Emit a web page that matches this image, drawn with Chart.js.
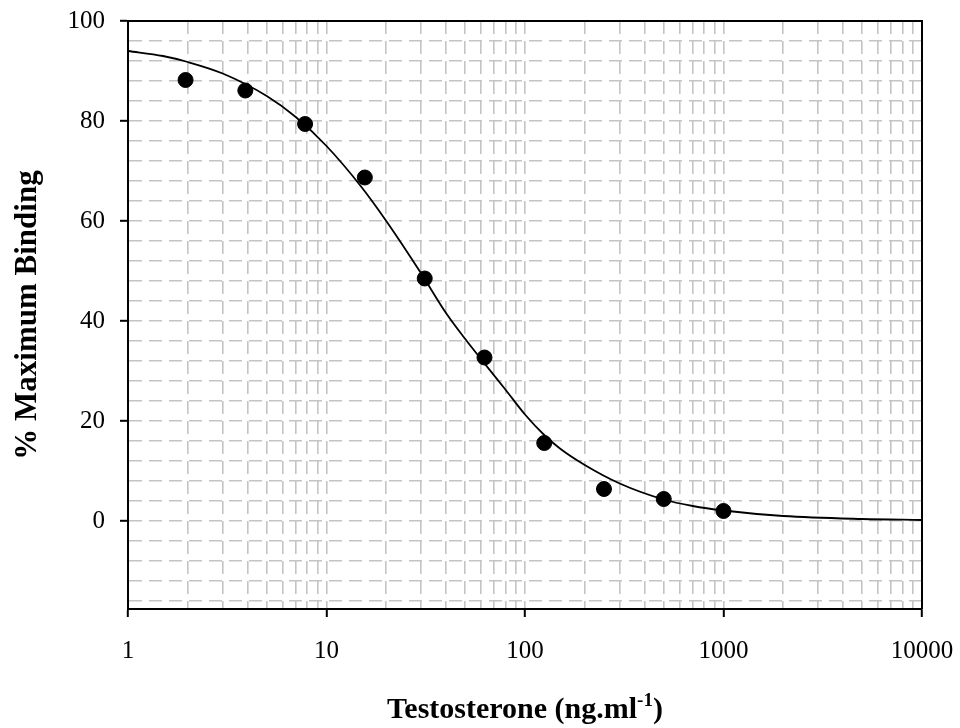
<!DOCTYPE html>
<html>
<head>
<meta charset="utf-8">
<script src="https://cdn.jsdelivr.net/npm/chart.js@4.4.1/dist/chart.umd.min.js"></script>
<style>
  html, body { margin: 0; padding: 0; background: #fff; }
  #wrap { width: 960px; height: 728px; position: relative; }
</style>
</head>
<body>
<div id="wrap"><canvas id="binding-chart"></canvas></div>
<script>
// measured points (dose in ng/ml vs % max binding)
const doses = [1.95, 3.9, 7.8, 15.6, 31.25, 62.5, 125, 250, 500, 1000];
const binding = [88.2, 86.1, 79.4, 68.7, 48.5, 32.7, 15.6, 6.4, 4.4, 2.0];

// fitted curve, values
const fitDoses = [1, 1.5, 2, 3, 5, 7, 10, 15, 20, 30, 40, 50, 60, 80, 100, 125, 150, 200, 300, 500, 700, 1000, 2000, 5000, 10000];
const fitBinding = [94.0, 93.0, 91.8, 89.5, 85.0, 80.8, 75.0, 66.8, 60.0, 49.5, 41.6, 36.4, 32.4, 26.2, 21.3, 17.2, 14.5, 11.2, 7.5, 4.3, 3.0, 2.1, 1.0, 0.4, 0.2];

// ticks and grid
const xLabels = [1, 10, 100, 1000, 10000];
const xMinor = [2, 3, 4, 5, 6, 7, 8, 9];
const yLabels = [0, 20, 40, 60, 80, 100];
const yGrid = [-16, -12, -8, -4, 0, 4, 8, 12, 16, 20, 24, 28, 32, 36, 40, 44, 48, 52, 56, 60, 64, 68, 72, 76, 80, 84, 88, 92, 96, 100];

const xGrid = [];
xLabels.forEach(function (d, i) {
    xGrid.push(d);
    if (i < xLabels.length - 1) xMinor.forEach(function (m) { xGrid.push(d * m); });
});

const serif = '"Liberation Serif", "Times New Roman", serif';
const gridGrey = '#c4c4c4';

// no label overflow padding, the layout padding alone sets the plot box
function noPad(scale) {
    scale.paddingLeft = 0;
    scale.paddingRight = 0;
    scale.paddingTop = 0;
    scale.paddingBottom = 0;
}

const frameAndTitles = {
    id: 'frameAndTitles',
    afterDraw(chart) {
        const ctx = chart.ctx;
        const a = chart.chartArea;
        ctx.save();
        ctx.strokeStyle = '#000';
        ctx.lineWidth = 2;
        ctx.beginPath();
        ctx.moveTo(a.left, a.top);
        ctx.lineTo(a.right, a.top);
        ctx.lineTo(a.right, a.bottom);
        ctx.stroke();

        ctx.fillStyle = '#000';
        const big = 'bold 30px ' + serif;
        const small = 'bold 19px ' + serif;
        const main = 'Testosterone (ng.ml', sup = '-1', tail = ')';
        ctx.font = big;
        const w1 = ctx.measureText(main).width;
        const w3 = ctx.measureText(tail).width;
        ctx.font = small;
        const w2 = ctx.measureText(sup).width;
        let x = (a.left + a.right) / 2 - (w1 + w2 + w3) / 2;
        const base = 718;
        ctx.textAlign = 'left';
        ctx.textBaseline = 'alphabetic';
        ctx.font = big;
        ctx.fillText(main, x, base);
        x += w1;
        ctx.font = small;
        ctx.fillText(sup, x, base - 12);
        x += w2;
        ctx.font = big;
        ctx.fillText(tail, x, base);

        ctx.translate(36, 315);
        ctx.rotate(-Math.PI / 2);
        ctx.textAlign = 'center';
        ctx.font = 'bold 31px ' + serif;
        ctx.fillText('% Maximum Binding', 0, 0);
        ctx.restore();
    }
};

const ctx = document.getElementById('binding-chart');
new Chart(ctx, {
    type: 'scatter',
    data: {
        datasets: [{
            label: 'measured',
            data: doses.map(function (d, i) { return { x: d, y: binding[i] }; }),
            backgroundColor: '#000',
            borderColor: '#000',
            pointRadius: 7.5,
            pointHoverRadius: 7.5
        }, {
            label: 'fit',
            data: fitDoses.map(function (d, i) { return { x: d, y: fitBinding[i] }; }),
            showLine: true,
            borderColor: '#000',
            borderWidth: 1.8,
            pointRadius: 0,
            cubicInterpolationMode: 'monotone',
            fill: false
        }]
    },
    options: {
        responsive: true,
        maintainAspectRatio: false,
        animation: false,
        layout: { padding: { top: 21, right: 38, left: 0, bottom: 0 } },
        plugins: { legend: { display: false }, tooltip: { enabled: false } },
        scales: {
            x: {
                type: 'logarithmic',
                min: 1,
                max: 10000,
                afterBuildTicks: function (scale) {
                    scale.ticks = xGrid.map(function (v) { return { value: v }; });
                },
                afterFit: function (scale) { scale.height = 119; noPad(scale); },
                ticks: {
                    autoSkip: false,
                    maxRotation: 0,
                    padding: 19,
                    color: '#000',
                    font: { family: serif, size: 25 },
                    callback: function (v) { return xLabels.includes(v) ? String(v) : ''; }
                },
                grid: {
                    color: gridGrey,
                    lineWidth: 1.6,
                    tickLength: 8,
                    tickWidth: 2,
                    tickBorderDash: [],
                    tickColor: function (c) {
                        return (c.tick && xLabels.includes(c.tick.value)) ? '#000' : 'rgba(0,0,0,0)';
                    }
                },
                border: { color: '#000', width: 2, dash: [13, 7] }
            },
            y: {
                min: -17.6,
                max: 100,
                afterBuildTicks: function (scale) {
                    scale.ticks = yGrid.map(function (v) { return { value: v }; });
                },
                afterFit: function (scale) { scale.width = 128; noPad(scale); },
                ticks: {
                    autoSkip: false,
                    padding: 15,
                    color: '#000',
                    font: { family: serif, size: 25 },
                    callback: function (v) { return yLabels.includes(v) ? String(v) : ''; }
                },
                grid: {
                    color: gridGrey,
                    lineWidth: 1.6,
                    tickLength: 8,
                    tickWidth: 2,
                    tickBorderDash: [],
                    tickColor: function (c) {
                        return (c.tick && yLabels.includes(c.tick.value)) ? '#000' : 'rgba(0,0,0,0)';
                    }
                },
                border: { color: '#000', width: 2, dash: [13, 7] }
            }
        }
    },
    plugins: [frameAndTitles]
});
</script>
</body>
</html>
